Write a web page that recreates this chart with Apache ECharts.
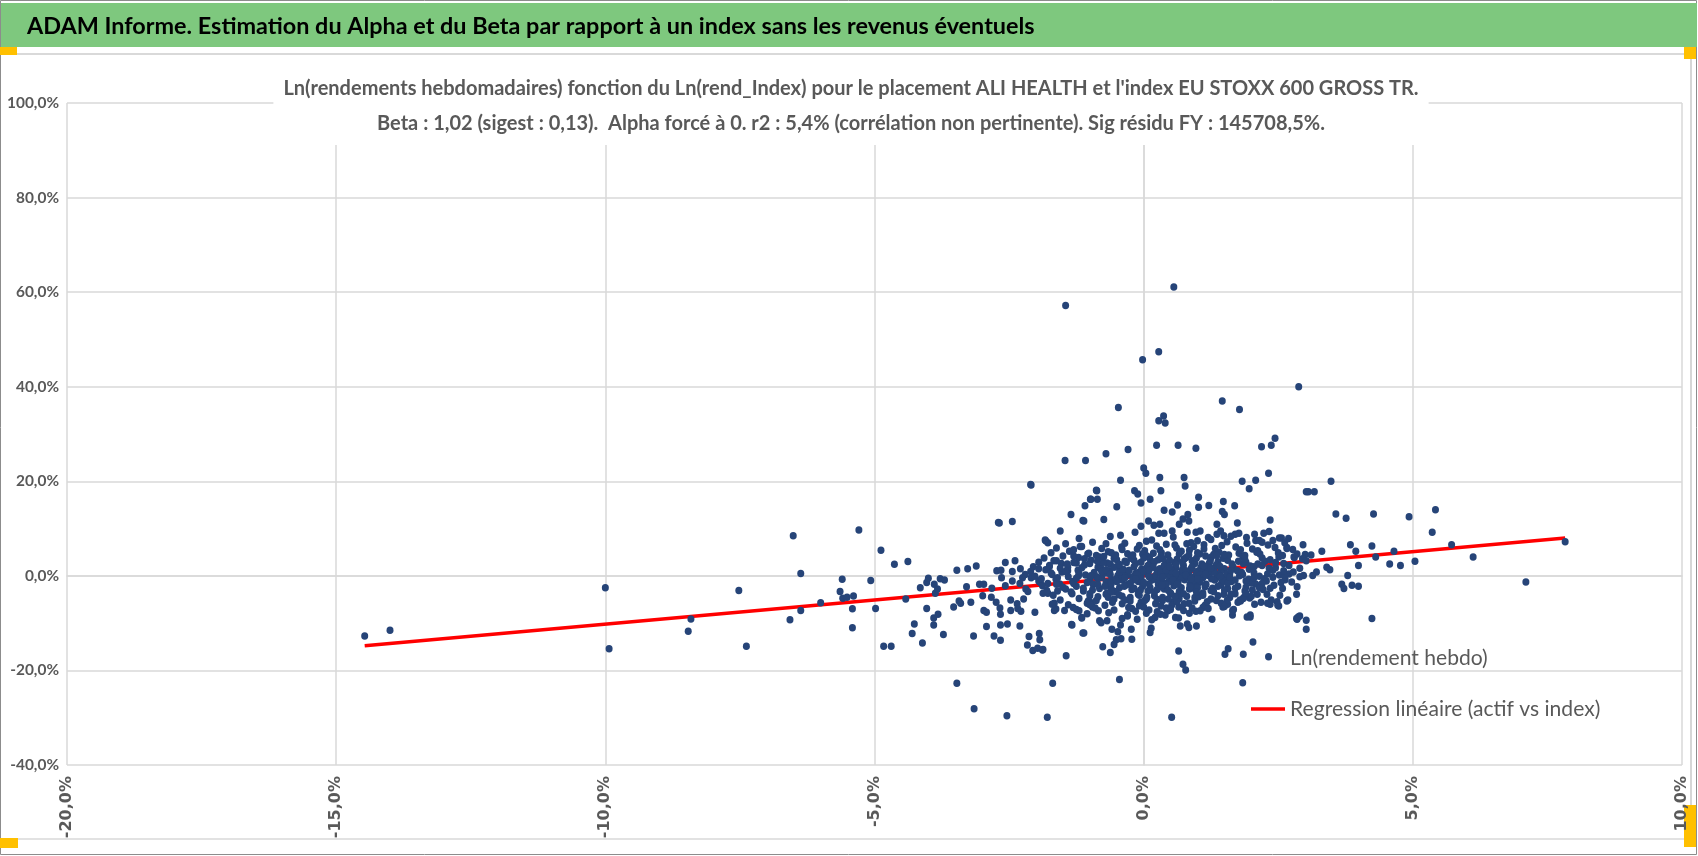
<!DOCTYPE html>
<html>
<head>
<meta charset="utf-8">
<title>ADAM Informe - Alpha et Beta</title>
<script src="https://cdn.jsdelivr.net/npm/echarts/dist/echarts.min.js"></script>
<style>
  html, body { margin: 0; padding: 0; background: #fff; }
  #main { width: 1698px; height: 856px; }
</style>
</head>
<body>
<div id="main"></div>
<script>
// textes
var enTete = 'ADAM Informe. Estimation du Alpha et du Beta par rapport à un index sans les revenus éventuels';
var titreLignes = [
  "Ln(rendements hebdomadaires) fonction du Ln(rend_Index) pour le placement ALI HEALTH et l'index EU STOXX 600 GROSS TR.",
  'Beta : 1,02 (sigest : 0,13).  Alpha forcé à 0. r2 : 5,4% (corrélation non pertinente). Sig résidu FY : 145708,5%.'
];
var nomPoints = 'Ln(rendement hebdo)';
var nomRegression = 'Regression linéaire (actif vs index)';

// axes (en %)
var xMin = -20, xMax = 10, xPas = 5;
var yMin = -40, yMax = 100, yPas = 20;

// droite de régression (extrémités)
var regX = [-14.47, 7.83];
var regY = [-14.76, 7.99];

// points [Ln(rend_Index), Ln(rendement hebdo)] en %
var ptsGauche = [
  [-14.47,-12.7],[-14.0,-11.5],[-10.0,-2.5],[-9.93,-15.4],[-8.41,-9.1],[-8.46,-11.7],
  [-7.52,-3.1],[-7.38,-14.9],[-6.51,8.5],[-6.37,0.5],[-6.57,-9.3],[-6.37,-7.3],[-6.0,-5.7],
  [-5.6,-0.7],[-5.64,-3.3],[-5.59,-4.75],[-5.51,-4.55],[-5.39,-4.25],[-5.41,-6.95],[-5.41,-11.0],
  [-5.29,9.7],[-5.07,-1.0],[-4.98,-6.9],[-4.88,5.4],[-4.63,2.45],[-4.38,3.05],[-4.83,-14.9],
  [-4.69,-14.9],[-4.42,-4.9],[-4.15,-2.5],[-4.26,-10.2],[-4.3,-12.2],
  [-4.11,-14.2],[-4.03,-6.9],[-4.03,-1.4],[-4.0,-0.5],[-3.87,-3.7],[-3.89,-1.8],[-3.83,-2.8],
  [-3.78,-0.6],[-3.7,-0.9],[-3.82,-8.1],[-3.9,-8.9],[-3.9,-10.4],[-3.72,-12.4],[-3.53,-6.6],
  [-3.47,1.2],[-3.43,-5.3],[-3.4,-5.8],[-3.47,-22.7],[-3.29,-2.3],[-3.27,1.5],[-3.21,-5.6],
  [-3.11,2.1],[-3.16,-12.7],[-3.05,-1.8],[-2.97,-1.8],[-2.99,-4.2],[-2.97,-7.3],[-2.92,-7.7],
  [-2.92,-10.7],[-2.82,-2.6],[-2.83,-4.5],[-2.78,-12.7],[-2.73,1.1],[-2.68,11.2],[-2.65,1.2],
  [-2.64,-0.4],[-2.74,-5.6],[-2.67,-6.8],[-2.66,-8.1],[-2.66,-10.4],[-2.66,-13.6],[-2.57,2.8],
  [-2.57,-2.1],[-2.53,-10.2],[-2.47,-5.1],[-2.47,-7.3],[-2.44,11.5],[-2.44,0.9],[-2.44,-1.1],
  [-2.39,3.2],[-2.35,-5.9],[-2.34,-6.9],[-2.3,-10.6],[-2.29,1.5],[-2.25,-0.4],[-2.23,-4.9],
  [-2.28,-7.5],[-2.19,-2.8],[-2.16,-14.6],[-2.13,-12.8],[-2.09,19.2],[-2.09,-0.4],[-2.06,-15.8],
  [-2.02,-7.7],[-1.97,-15.3],[-1.94,-12.2],[-1.93,-13.5],[-1.92,-1.4],[-1.88,-15.7],[-1.87,-3.7],
  [-1.82,7.4],[-1.78,7.0],[-1.75,2.0],[-1.78,-1.6],[-1.69,-22.7],[-1.67,3.2],[-1.66,-5.8],
  [-1.63,-7.0],[-1.6,-3.2],[-1.55,9.5],[-1.53,2.6],[-1.44,-16.9],[-1.41,1.1],[-1.35,13.0],
  [-1.33,-10.4],[-1.31,-6.7],[-1.25,2.7],[-1.21,0.0],[-1.2,-7.4],[-1.18,6.2],[-1.15,-8.9],
  [-1.11,-12.1],[-1.11,11.6],[-1.09,14.8],[-1.04,4.6],[-1.03,-5.3],[-0.97,-5.7],[-0.85,1.8],
  [-0.82,-9.5],[-3.15,-28.1],[-2.54,-29.6],[-1.79,-29.9]
];

var ptsHaut = [
  [0.56,61.1],[-1.45,57.2],[0.28,47.4],[-0.02,45.7],[2.88,40.0],[-0.47,35.6],[1.46,37.0],
  [1.78,35.2],[0.28,32.8],[0.37,33.8],[0.4,32.3],[2.44,29.1],[2.37,27.6],[2.19,27.3],
  [-1.46,24.4],[-1.08,24.4],[-0.7,25.8],[-0.29,26.7],[0.24,27.6],[0.64,27.6],[0.97,27.0],
  [-2.1,19.3],[0.0,22.8],[0.04,21.7],[-0.43,20.2],[0.3,20.8],[0.75,20.8],[0.77,19.0],
  [1.83,20.0],[2.08,20.2],[1.96,18.4],[2.32,21.7],[3.48,20.0],[3.02,17.8],[3.06,17.8],
  [3.17,17.8],[3.57,13.1],[3.76,12.2],[4.27,13.1],[-2.7,11.3],[-0.88,18.1],[-0.17,18.0],
  [-0.11,17.3],[-0.99,16.2],[-0.86,16.2],[-0.05,15.4],[0.12,16.2],[-0.5,14.6],[-1.13,11.7],
  [-0.74,11.9],[-1.83,7.6],[0.32,18.0],[1.02,16.6],[1.02,14.5],[1.21,14.9],[1.48,15.7],
  [1.69,14.8],[1.46,13.6],[1.5,13.0],[0.63,15.0],[0.53,13.5],[0.38,13.9],[0.82,13.0],
  [2.35,11.8],[1.74,11.2],[1.36,10.9],[-0.05,10.5],[-0.16,9.2],[0.09,11.6],[0.19,10.7],
  [0.3,10.9],[0.28,9.0],[0.38,9.0],[0.53,9.5],[0.66,10.9],[0.73,12.0],[0.84,11.6],[0.81,9.2],
  [0.97,9.2],[1.05,9.5],[1.43,9.5],[1.77,9.0],[2.23,9.0],[2.33,9.4],[2.06,8.8],[1.36,8.8],
  [1.49,8.5],[1.7,8.8],[1.2,8.1],[1.91,8.1],[2.56,8.0],[2.08,7.5],[2.2,7.1],[2.4,7.5],
  [-0.43,8.6],[-0.87,18.0],[-0.98,16.2]
];

var ptsBas = [
  [2.66,6.0],[2.8,3.9],[2.7,0.4],[2.85,-2.3],[2.84,-3.9],[2.66,-5.3],[2.51,-6.4],[2.48,-5.5],
  [2.35,-6.0],[2.29,-3.9],[2.17,-2.1],[2.11,-3.9],[2.06,-6.0],[1.98,-8.7],[1.97,-4.7],
  [1.86,-4.6],[1.8,-5.3],[1.67,-7.1],[1.65,-8.3],[1.56,-6.0],[1.49,-3.9],[1.47,-6.6],
  [1.27,-9.2],[1.1,-6.7],[1.05,-7.4],[0.97,-7.5],[0.98,-10.6],[0.84,-10.9],[0.81,-10.2],
  [0.68,-10.6],[0.65,-15.9],[0.59,-8.8],[0.45,-7.4],[0.31,-8.1],[0.21,-8.8],[0.14,-11.1],
  [0.12,-12.0],[-0.12,-9.2],[-0.23,-11.3],[-0.3,-8.5],[-0.43,-10.4],[-0.48,-11.8],
  [-0.42,-13.3],[-0.51,-13.5],[-0.55,-14.5],[-0.62,-16.2],[-0.76,-15.0],[-0.59,-11.3],
  [-0.68,-9.5],[-0.79,-9.9],[-0.84,-7.4],[-1.15,-8.8],[-1.13,-12.1],[-1.34,-10.3],
  [-1.47,-7.3],[-1.66,-7.3],[-1.7,-6.0],[-1.78,-3.7],[-1.87,-15.6],[-0.45,-21.9],
  [0.73,-18.7],[0.78,-19.9],[1.51,-16.6],[1.57,-15.4],[1.85,-16.6],[2.03,-14.0],[2.32,-17.1],
  [2.85,-9.2],[2.9,-8.5],[1.84,-22.6],[0.52,-29.9],[-0.22,-13.4],[1.98,-8.3],[1.92,-8.7],
  [1.79,-5.1],[2.18,-5.6],[2.3,-5.8],[2.37,-5.1],[2.49,-6.2],[2.53,-4.1],[2.68,-5.1]
];

var ptsDroite = [
  [4.93,12.5],[5.42,14.0],[5.36,9.2],[5.72,6.6],[6.12,4.0],[7.1,-1.3],[7.83,7.2],[3.84,6.6],
  [3.94,5.2],[4.24,6.3],[4.31,4.0],[3.99,2.2],[4.57,2.5],[4.65,5.2],[4.77,2.2],[5.04,3.1],
  [3.31,5.2],[3.0,4.5],[3.11,4.4],[2.96,6.6],[3.4,1.8],[3.46,1.3],[3.21,0.8],[3.14,0.1],
  [2.97,0.1],[3.79,0.1],[3.68,-1.8],[3.72,-2.7],[3.87,-2.0],[3.99,-2.2],[4.24,-9.0],
  [2.84,-9.0],[2.87,-8.7],[3.02,-9.4],[3.02,-11.3],[2.69,7.9],[2.79,4.0],[2.66,5.8],[2.51,4.0]
];

var ptsCoeur = [
  [-1.2,7.9],[-0.62,8.3],[0.15,7.6],[0.55,8.2],[1.25,7.7],[1.62,8.4],[2.15,7.5],[2.52,8.0],
  [-1.45,6.8],[-0.95,7.1],[-0.35,6.9],[0.05,7.3],[0.42,6.7],[0.88,7.0],[1.12,6.6],[1.55,7.2],
  [1.92,6.9],[2.31,6.5],[2.62,7.0],
  [-1.62,5.9],[-1.15,6.2],[-0.78,5.8],[-0.41,6.1],[-0.12,5.7],[0.24,6.3],[0.61,5.9],[0.93,6.2],
  [1.33,5.8],[1.71,6.1],[2.02,5.7],[2.44,6.0],[2.77,5.6],
  [-1.72,4.9],[-1.38,5.2],[-1.02,4.8],[-0.66,5.1],[-0.3,4.7],[0.02,5.3],[0.33,4.9],[0.7,5.2],
  [1.04,4.6],[1.4,5.0],[1.77,4.8],[2.12,5.3],[2.5,4.9],[2.85,4.6],
  [-1.85,3.8],[-1.5,4.2],[-1.21,3.9],[-0.88,4.3],[-0.55,3.7],[-0.22,4.1],[0.11,3.8],[0.45,4.4],
  [0.79,3.9],[1.15,4.2],[1.48,3.7],[1.84,4.1],[2.2,3.8],[2.58,4.3],[2.95,3.6],[-0.02,4.6],
  [0.62,3.5],[1.3,4.5],
  [-1.95,2.9],[-1.62,3.2],[-1.3,2.8],[-0.98,3.3],[-0.68,2.7],[-0.35,3.1],[-0.05,2.9],[0.27,3.4],
  [0.58,2.8],[0.9,3.2],[1.22,2.7],[1.56,3.3],[1.9,2.9],[2.25,3.1],[2.6,2.6],[3.02,3.2],
  [0.12,2.6],[0.75,3.5],[1.38,3.0],[-0.5,3.4],
  [-2.05,1.9],[-1.75,2.2],[-1.41,1.8],[-1.1,2.3],[-0.8,1.7],[-0.48,2.1],[-0.18,1.9],[0.14,2.4],
  [0.43,1.8],[0.74,2.2],[1.06,1.7],[1.35,2.3],[1.66,1.9],[1.98,2.1],[2.33,1.6],[2.7,2.2],
  [-0.62,2.5],[0.3,1.5],[0.95,2.6],[1.5,1.5],[2.12,2.5],
  [-2.1,0.9],[-1.82,1.3],[-1.52,0.8],[-1.22,1.2],[-0.92,0.7],[-0.63,1.1],[-0.33,0.9],[-0.04,1.4],
  [0.25,0.8],[0.55,1.2],[0.84,0.7],[1.12,1.3],[1.43,0.9],[1.74,1.1],[2.05,0.6],[2.4,1.2],
  [2.78,0.8],[-0.15,0.5],[0.4,1.6],[1.0,1.0],[1.6,0.5],[0.7,0.4],[-0.8,1.5],
  [-2.02,-0.1],[-1.7,0.3],[-1.4,-0.2],[-1.08,0.2],[-0.78,-0.3],[-0.48,0.1],[-0.2,-0.2],[0.08,0.3],
  [0.36,-0.1],[0.65,0.2],[0.93,-0.3],[1.2,0.1],[1.52,-0.2],[1.84,0.3],[2.15,-0.1],[2.52,0.2],
  [2.9,-0.2],[-0.35,0.4],[0.2,-0.4],[0.78,0.5],[1.35,-0.4],[-1.2,0.5],[0.5,-0.5],
  [-1.95,-1.1],[-1.63,-0.7],[-1.32,-1.2],[-1.0,-0.8],[-0.7,-1.3],[-0.4,-0.9],[-0.1,-1.2],[0.18,-0.7],
  [0.47,-1.1],[0.76,-0.8],[1.05,-1.3],[1.32,-0.9],[1.63,-1.2],[1.95,-0.7],[2.28,-1.1],[2.63,-0.8],
  [-0.25,-1.5],[0.32,-1.4],[0.9,-1.5],[1.5,-0.6],[-0.85,-0.6],[0.62,-0.6],
  [-1.88,-2.1],[-1.56,-1.7],[-1.25,-2.2],[-0.94,-1.8],[-0.62,-2.3],[-0.32,-1.9],[-0.02,-2.2],[0.27,-1.7],
  [0.56,-2.1],[0.86,-1.8],[1.14,-2.3],[1.44,-1.9],[1.75,-2.2],[2.08,-1.7],[2.42,-2.0],[-0.45,-2.5],
  [0.12,-2.5],[0.7,-2.5],[1.28,-2.6],[0.4,-1.6],[1.0,-1.6],
  [-1.8,-3.1],[-1.45,-2.8],[-1.12,-3.2],[-0.82,-2.7],[-0.52,-3.3],[-0.22,-2.9],[0.08,-3.2],[0.38,-2.8],
  [0.66,-3.3],[0.96,-2.9],[1.25,-3.1],[1.56,-2.7],[1.88,-3.2],[2.22,-2.9],[-0.1,-3.5],[0.5,-3.6],
  [1.1,-3.6],[-0.68,-3.6],
  [-1.68,-4.1],[-1.33,-3.8],[-1.0,-4.2],[-0.7,-3.9],[-0.4,-4.3],[-0.1,-3.9],[0.2,-4.2],[0.5,-3.8],
  [0.8,-4.3],[1.08,-3.9],[1.38,-4.2],[1.7,-3.8],[2.0,-4.3],[0.35,-4.6],[-0.25,-4.6],[0.95,-4.6],
  [-1.55,-5.1],[-1.2,-4.8],[-0.88,-5.2],[-0.55,-4.9],[-0.25,-5.3],[0.05,-4.9],[0.35,-5.2],[0.66,-4.8],
  [0.95,-5.3],[1.25,-4.9],[1.55,-5.2],[1.85,-4.8],[-0.05,-5.6],[0.55,-5.6],
  [-1.4,-6.1],[-1.05,-5.8],[-0.72,-6.2],[-0.4,-5.9],[-0.08,-6.3],[0.22,-5.9],[0.52,-6.2],[0.84,-5.8],
  [1.14,-6.2],[1.44,-5.8],[0.0,-6.6],[0.65,-6.6],
  [-1.25,-7.1],[-0.9,-6.8],[-0.55,-7.2],[-0.22,-6.9],[0.1,-7.2],[0.42,-6.8],[0.74,-7.3],[1.2,-6.9],
  [0.25,-7.6],[-1.05,-8.0],[-0.65,-7.8],[-0.3,-8.2],[0.05,-7.9],[0.4,-8.3],[0.85,-7.9],
  [-0.4,-9.0],[0.15,-9.3],[0.65,-8.9],
  [-0.7,0.6],[-0.42,-0.5],[-0.1,0.7],[0.15,-0.9],[0.42,0.5],[0.7,-0.4],[0.98,0.6],[1.26,-0.6],
  [1.55,0.4],[-0.55,1.8],[-0.25,-1.8],[0.05,1.6],[0.33,-2.3],[0.6,1.7],[0.9,-2.0],[1.18,1.9],
  [1.45,-1.4],[-0.85,-1.9],[-0.15,2.6],[0.45,2.7],[1.08,2.5],[0.25,-2.9],[0.85,-2.8],[-0.6,-2.8],
  [1.7,-2.6],[1.85,2.6],[-1.0,2.6],[-1.3,-1.6],[-1.55,1.6],[2.3,0.4],[2.0,-1.5],[0.58,0.0],
  [-0.05,-0.1],[1.05,0.2]
];

var ptsCoeurDense = [
  [-0.88,-0.2],[-0.6,-1.0],[-0.3,0.2],[-0.05,-0.6],[0.22,0.1],[0.48,-0.3],[0.72,0.9],[0.95,-0.9],
  [1.22,0.5],[1.48,-1.0],[1.78,0.0],[2.05,-0.4],
  [-0.75,2.9],[-0.45,0.8],[-0.18,3.3],[0.1,-1.7],[0.38,2.2],[0.64,-1.5],[0.88,1.5],[1.16,-1.8],
  [1.42,2.0],[1.7,-0.9],[1.96,1.4],[2.24,-0.6],
  [-0.95,-3.0],[-0.66,-4.5],[-0.36,-2.2],[-0.08,-4.1],[0.2,-3.4],[0.46,-4.9],[0.74,-3.8],[1.02,-4.4],
  [1.3,-3.3],[1.6,-4.6],[1.9,-3.6],
  [-1.1,3.6],[-0.82,4.0],[-0.52,4.4],[-0.24,3.7],[0.06,4.2],[0.36,3.6],[0.66,4.6],[0.98,3.7],
  [1.26,4.0],[1.58,4.4],[1.88,3.5],[2.16,4.6],
  [-1.25,-0.5],[-1.45,0.9],[-1.62,-1.8],[-1.15,1.7],[-1.35,-3.4],[2.35,-2.6],[2.55,-1.4],[2.45,1.7],
  [2.62,-0.2],[2.2,2.2],
  [-0.58,-5.6],[-0.28,-6.7],[0.02,-5.2],[0.32,-6.4],[0.62,-5.4],[0.9,-6.8],[1.18,-5.5],[1.5,-6.5],
  [-0.4,5.6],[-0.08,6.4],[0.3,5.5],[0.58,6.5],[0.85,5.4],[1.12,5.7],[1.45,6.4],[1.8,5.5],
  [0.0,0.9],[0.3,-0.8],[0.52,1.0],[0.8,-0.1],[1.1,-0.4],[1.38,0.3],[-0.2,-0.9],[0.12,2.0],
  [0.42,-1.9],[0.72,1.3],[1.0,-2.5],[1.3,1.4],[-0.38,1.4],[-0.6,-1.6],[1.62,1.2],[1.9,-1.1],
  [0.18,4.8],[0.5,-7.1],[0.8,6.8],[-0.7,6.8],[-0.95,-6.6],[1.65,-7.4],[1.0,7.4],[-0.15,-7.5],
  [-1.05,-1.4],[-0.78,0.9],[-0.52,-0.7],[-0.27,1.2],[0.0,-1.4],[0.26,1.1],[0.52,-1.2],[0.78,1.1],
  [1.04,-1.0],[1.3,0.8],[1.56,-1.5],[1.82,0.7],
  [-0.98,0.0],[-0.72,-2.2],[-0.45,2.4],[-0.18,-2.6],[0.08,2.2],[0.34,-2.0],[0.6,2.4],[0.86,-2.3],
  [1.12,2.1],[1.38,-2.2],[1.64,2.5],[1.9,-2.4],
  [-1.12,-2.6],[-0.86,3.1],[-0.6,-3.4],[-0.32,2.8],[-0.06,-3.0],[0.2,3.0],[0.46,-3.1],[0.72,2.9],
  [0.98,-3.4],[1.24,3.2],[1.5,-3.0],[1.76,3.1],[2.02,-3.0],
  [-1.3,4.2],[-1.0,-3.8],[-0.74,4.1],[-0.46,-4.0],[-0.2,4.4],[0.06,-4.5],[0.32,4.1],[0.58,-4.3],
  [0.84,4.4],[1.1,-4.1],[1.36,4.3],[1.62,-3.9],[1.88,4.3],
  [-1.5,-2.4],[-1.72,0.6],[-1.6,-0.4],[-1.42,2.5],[-1.9,-0.6],[-2.2,0.3],[-2.3,-1.6],[-2.15,-3.3],
  [-1.95,1.5],
  [2.2,-1.6],[2.4,-0.3],[2.6,1.1],[2.75,-1.3],[2.45,2.8],[2.9,1.6],[2.58,-2.7],[2.35,3.4],
  [2.05,1.9],[2.15,-2.5],
  [-0.35,-0.4],[-0.12,0.3],[0.1,-0.2],[0.32,0.6],[0.55,-0.8],[0.78,0.2],[1.0,-0.6],[1.2,1.0],
  [1.42,-0.1],[0.42,1.2],[0.62,-1.8],[0.18,1.8],[0.9,1.9],[-0.5,-1.2],[-0.7,1.3],
  [0.0,3.8],[0.48,3.3],[1.0,4.9],[1.5,4.5],[-0.6,4.9],[0.25,-5.0],[0.75,-5.9],[1.35,-5.2],
  [-0.35,-5.1],[-0.85,-4.4],[1.75,-5.6],[2.1,5.0],[-1.3,5.5],[-1.0,-6.1],
  [0.6,0.6],[0.35,-0.3],[0.88,-0.6],[1.15,0.3],[-0.15,-0.6],[-0.62,0.3],[0.1,1.2],[1.6,-0.3],
  [1.25,1.6],[0.48,2.0]
];

var points = ptsGauche.concat(ptsHaut, ptsBas, ptsDroite, ptsCoeur, ptsCoeurDense);
var regression = regX.map(function (x, i) { return [x, regY[i]]; });

var police = "Lato, 'Noto Sans', 'Liberation Sans', sans-serif";
var gris = '#595959';
var grille = '#d9d9d9';

// taille de police pour qu'un texte occupe la largeur (police de remplacement plus large que Calibri)
var mesure = document.createElement('canvas').getContext('2d');
function taille(texte, poids, largeur) {
  mesure.font = poids + ' 100px ' + police;
  return Math.round(1000 * largeur / mesure.measureText(texte).width) / 10;
}
var tEnTete = taille(enTete, 'bold', 1010);
var tTitre = taille(titreLignes[0], 'bold', 1137);
var tAxeY = taille('100,0%', 'bold', 52);
var tLegende = taille(nomRegression, 'normal', 310);

function pct(v) {
  return v.toFixed(1).replace('.', ',') + '%';
}

var myChart = echarts.init(document.getElementById('main'));
myChart.setOption({
  backgroundColor: '#fff',
  animation: false,
  graphic: [
    // cadre, bandeau vert et poignées
    { type: 'rect', z: -10, shape: { x: 0.5, y: 0.5, width: 1696, height: 854 },
      style: { fill: 'none', stroke: '#8c8c8c', lineWidth: 1 } },
    { type: 'rect', z: -9, shape: { x: 1, y: 3, width: 1696, height: 44 },
      style: { fill: '#7ec87e' } },
    { type: 'line', z: -9, shape: { x1: 0, y1: 54, x2: 1691, y2: 54 },
      style: { stroke: grille, lineWidth: 2 } },
    { type: 'line', z: -9, shape: { x1: 1691, y1: 54, x2: 1691, y2: 840 },
      style: { stroke: '#c8c8c8', lineWidth: 1.5 } },
    { type: 'line', z: -9, shape: { x1: 0, y1: 839, x2: 1691, y2: 839 },
      style: { stroke: grille, lineWidth: 1.5 } },
    { type: 'rect', z: -8, shape: { x: 0, y: 47, width: 17, height: 8 }, style: { fill: '#ffc000' } },
    { type: 'rect', z: -8, shape: { x: 1684, y: 47, width: 12, height: 12 }, style: { fill: '#ffc000' } },
    { type: 'rect', z: -8, shape: { x: 0, y: 838, width: 18, height: 10 }, style: { fill: '#ffc000' } },
    { type: 'rect', z: -8, shape: { x: 1684, y: 805, width: 12, height: 42 }, style: { fill: '#ffc000' } }
  ],
  title: [
    {
      text: enTete,
      left: 27,
      top: 11,
      padding: 0,
      textStyle: { fontFamily: police, fontSize: tEnTete, fontWeight: 'bold', color: '#000', lineHeight: 30 }
    },
    {
      text: titreLignes.join('\n'),
      left: 841,
      textAlign: 'center',
      top: 67,
      padding: [4, 10],
      backgroundColor: '#fff',
      z: 5,
      textStyle: { fontFamily: police, fontSize: tTitre, fontWeight: 'bold', color: gris, lineHeight: 35 }
    }
  ],
  legend: {
    orient: 'vertical',
    left: 1246,
    top: 641,
    itemWidth: 34,
    itemHeight: 14,
    itemGap: 27,
    textStyle: { fontFamily: police, fontSize: tLegende, color: gris, lineHeight: 24 },
    data: [
      { name: nomPoints, itemStyle: { opacity: 0 } },
      { name: nomRegression, icon: 'path://M0,0L34,0L34,3.5L0,3.5Z', itemStyle: { color: '#ff0000' } }
    ]
  },
  grid: { left: 67, right: 16, top: 103, bottom: 91, containLabel: false, outerBoundsMode: 'none' },
  xAxis: {
    type: 'value',
    min: xMin, max: xMax, interval: xPas,
    axisLine: { show: true, lineStyle: { color: grille, width: 1.5 } },
    axisTick: { show: false },
    splitLine: { show: true, lineStyle: { color: grille, width: 1.5 } },
    axisLabel: {
      rotate: 90, margin: 11, formatter: pct,
      fontFamily: "'DejaVu Sans', Verdana, sans-serif", fontSize: 16, fontWeight: 'bold', color: gris
    }
  },
  yAxis: {
    type: 'value',
    min: yMin, max: yMax, interval: yPas,
    axisLine: { show: true, lineStyle: { color: grille, width: 1.5 } },
    axisTick: { show: false },
    splitLine: { show: true, lineStyle: { color: grille, width: 1.5 } },
    axisLabel: {
      margin: 8, formatter: pct,
      fontFamily: police, fontSize: tAxeY, fontWeight: 'bold', color: gris
    }
  },
  series: [
    {
      name: nomRegression,
      type: 'line',
      data: regression,
      symbol: 'none',
      lineStyle: { color: '#ff0000', width: 3.5 },
      itemStyle: { color: '#ff0000' },
      z: 2
    },
    {
      name: nomPoints,
      type: 'scatter',
      data: points,
      symbolSize: [7, 7.5],
      itemStyle: { color: '#264478', opacity: 1 },
      z: 3
    }
  ]
});
</script>
</body>
</html>
